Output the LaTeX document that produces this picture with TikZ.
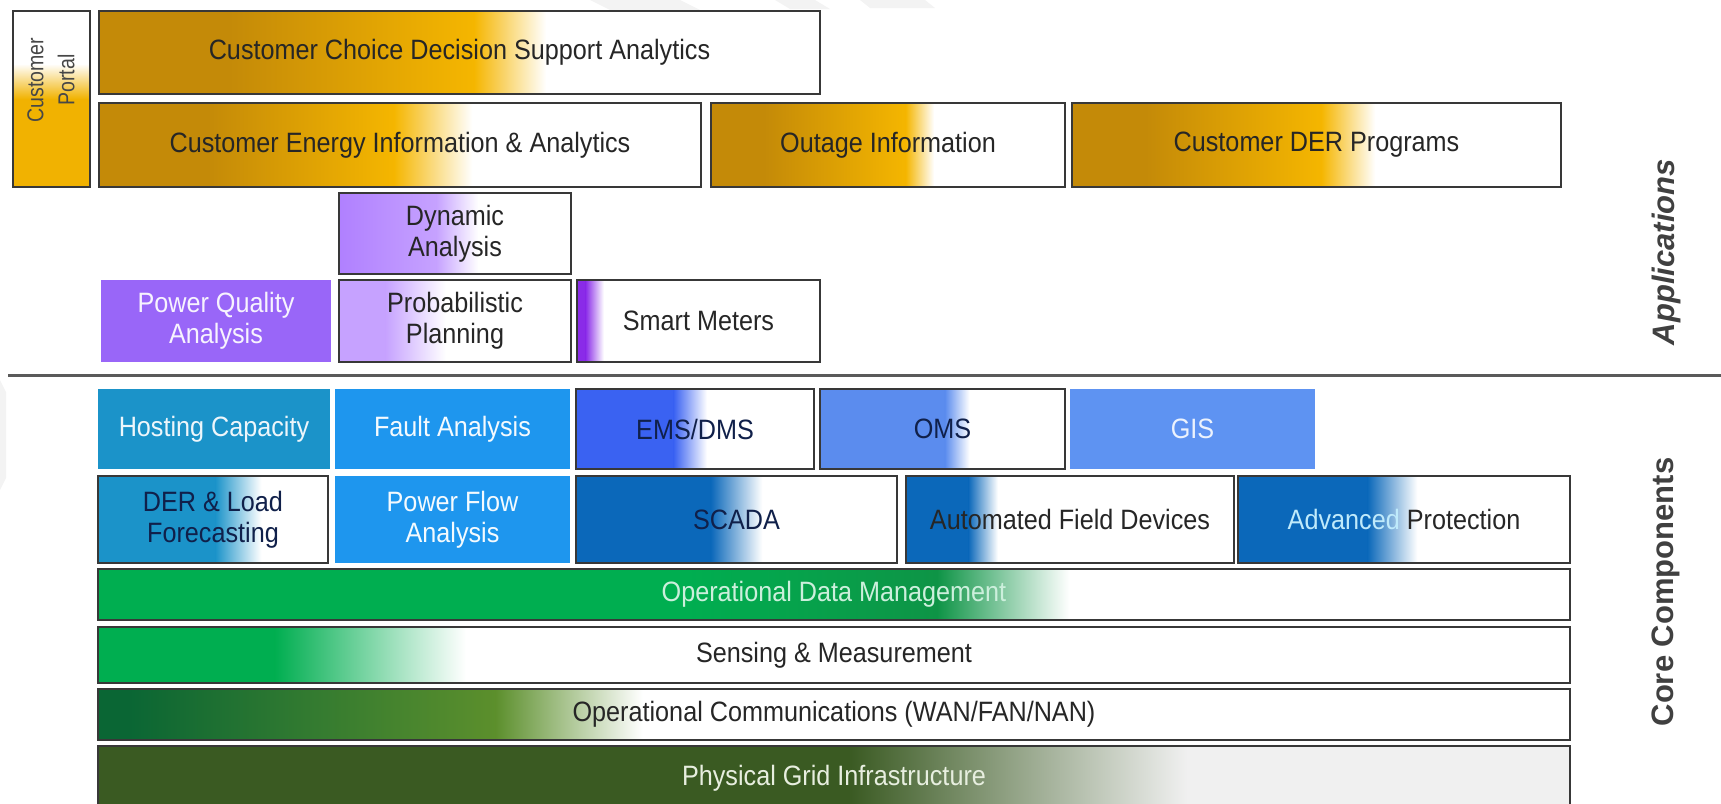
\documentclass[tikz,border=0pt]{standalone}
\usepackage{fontspec}
\setmainfont{Liberation Sans}
\newfontfamily\narrowfont{Liberation Sans}[FakeStretch=0.9]
\newfontfamily\portalfont{Liberation Sans}[FakeStretch=0.85]
\usetikzlibrary{calc}

% palette
\definecolor{goldD}{HTML}{C48A08}
\definecolor{goldB}{HTML}{F5B600}
\definecolor{purA}{HTML}{B080FF}
\definecolor{purB}{HTML}{C6A2FF}
\definecolor{purS}{HTML}{9966F8}
\definecolor{purV}{HTML}{8A2BE8}
\definecolor{bluH}{HTML}{1B93C9}
\definecolor{bluF}{HTML}{1E96EE}
\definecolor{bluE}{HTML}{3A62F2}
\definecolor{bluO}{HTML}{5B8CEE}
\definecolor{bluG}{HTML}{5E93F2}
\definecolor{bluS}{HTML}{0B68BA}
\definecolor{grnB}{HTML}{00AE50}
\definecolor{grnM}{HTML}{0E9446}
\definecolor{grnD}{HTML}{0A6634}
\definecolor{grnO}{HTML}{5C8F2C}
\definecolor{grnP}{HTML}{3A5A22}
\definecolor{lgray}{HTML}{F0F0F0}
\definecolor{txt}{HTML}{262626}
\definecolor{navy}{HTML}{10204A}
\definecolor{wmark}{HTML}{F3F3F3}
\definecolor{sepline}{HTML}{5A5A5A}

\tikzset{
  box/.style={rectangle, anchor=north west, inner sep=0pt, outer sep=0pt,
    draw=black!78, line width=1.6pt, text=txt,
    font=\narrowfont\fontsize{28}{31}\selectfont, align=center},
  solidbox/.style={box, draw=none, fill=#1},
  % solid #1 up to fraction #3, #1 -> #2 up to #4, #2 -> #6 up to #5, then #6
  grad/.style n args={6}{fill=#6, path picture={
    \fill[#1]
      (path picture bounding box.south west) rectangle
      ($(path picture bounding box.north west)!#3!(path picture bounding box.north east)+(0.6,0)$);
    \shade[left color=#1, right color=#2]
      ($(path picture bounding box.south west)!#3!(path picture bounding box.south east)$) rectangle
      ($(path picture bounding box.north west)!#4!(path picture bounding box.north east)+(0.6,0)$);
    \shade[left color=#2, right color=#6]
      ($(path picture bounding box.south west)!#4!(path picture bounding box.south east)$) rectangle
      ($(path picture bounding box.north west)!#5!(path picture bounding box.north east)$);
  }},
  % solid #1 from the bottom edge up to fraction #2, then #1 -> white up to #3
  vgrad/.style n args={3}{fill=white, path picture={
    \fill[#1]
      (path picture bounding box.south west) rectangle
      ($(path picture bounding box.south east)!#2!(path picture bounding box.north east)+(0,-0.6)$);
    \shade[bottom color=#1, top color=white]
      ($(path picture bounding box.south west)!#2!(path picture bounding box.north west)$) rectangle
      ($(path picture bounding box.south east)!#3!(path picture bounding box.north east)$);
  }},
  layer/.style={font=\bfseries\fontsize{31}{34}\selectfont, text=black!75, rotate=90}
}

\begin{document}
\begin{tikzpicture}[x=1pt, y=-1pt]
\useasboundingbox (0,0) rectangle (1721,803);

% faint background stripes
\fill[wmark] (590,0) -- (680,0) -- (700,10) -- (610,10) -- cycle;
\fill[wmark] (775,0) -- (815,0) -- (830,9) -- (790,9) -- cycle;
\fill[wmark] (860,0) -- (925,0) -- (935,8) -- (870,8) -- cycle;
\fill[wmark] (0,380) -- (6,392) -- (6,478) -- (0,490) -- cycle;

% ---------------- Applications ----------------
\node[box, vgrad={goldB!92!goldD}{0.50}{0.70}, minimum width=77, minimum height=176] (portal) at (13,11) {};
\node[font=\portalfont\fontsize{23}{31}\selectfont, text=black!72, align=center, rotate=90] (portaltxt) at (51,80) {Customer\\Portal};

\node[box, grad={goldD}{goldB}{0.18}{0.52}{0.62}{white}, minimum width=721, minimum height=83] (choice) at (99,11) {Customer Choice Decision Support Analytics};
\node[box, grad={goldD}{goldB}{0.18}{0.49}{0.62}{white}, minimum width=602, minimum height=84] (energy) at (99,103) {Customer Energy Information \& Analytics};
\node[box, grad={goldD}{goldB}{0.15}{0.55}{0.63}{white}, minimum width=354, minimum height=84] (outage) at (711,103) {Outage Information};
\node[box, grad={goldD}{goldB}{0.15}{0.51}{0.62}{white}, minimum width=489, minimum height=84] (derprog) at (1072,103) {Customer DER Programs};

\node[box, grad={purA}{purB}{0.0}{0.42}{0.60}{white}, minimum width=232, minimum height=81] (dynamic) at (339,193) {Dynamic\\Analysis};
\node[solidbox=purS, text=white!92!purS, minimum width=230, minimum height=82] (pq) at (101,280) {Power Quality\\Analysis};
\node[box, grad={purB}{purB}{0.18}{0.20}{0.46}{white}, minimum width=232, minimum height=82] (prob) at (339,280) {Probabilistic\\Planning};
\node[box, grad={purV}{purV}{0.03}{0.035}{0.11}{white}, minimum width=243, minimum height=82] (smart) at (577,280) {Smart Meters};

% divider between the two layers
\coordinate (sepL) at (8,375);
\coordinate (sepR) at (1721,375);
\draw[sepline, line width=3pt] (sepL) -- (sepR);

% ---------------- Core components ----------------
\node[solidbox=bluH, text=white!92!bluH, minimum width=232, minimum height=80] (hosting) at (98,389) {Hosting Capacity};
\node[solidbox=bluF, text=white!95!bluF, minimum width=235, minimum height=80] (fault) at (335,389) {Fault Analysis};
\node[box, grad={bluE}{bluE}{0.40}{0.41}{0.55}{white}, text=navy, minimum width=238, minimum height=80] (ems) at (576,389) {EMS/DMS};
\node[box, grad={bluO}{bluO}{0.50}{0.51}{0.61}{white}, text=navy, minimum width=245, minimum height=80] (oms) at (820,389) {OMS};
\node[solidbox=bluG, text=white!88!bluG, minimum width=245, minimum height=80] (gis) at (1070,389) {GIS};

\node[box, grad={bluH}{bluH}{0.50}{0.51}{0.71}{white}, text=navy, minimum width=230, minimum height=87] (derload) at (98,476) {DER \& Load\\Forecasting};
\node[solidbox=bluF, text=white!95!bluF, minimum width=235, minimum height=87] (pflow) at (335,476) {Power Flow\\Analysis};
\node[box, grad={bluS}{bluS}{0.41}{0.42}{0.58}{white}, text=navy, minimum width=321, minimum height=87] (scada) at (576,476) {SCADA};
\node[box, grad={bluS}{bluS}{0.18}{0.19}{0.28}{white}, text=txt, minimum width=328, minimum height=87] (afd) at (906,476) {Automated Field Devices};
\node[box, grad={bluS}{bluS}{0.38}{0.39}{0.54}{white}, text=txt, minimum width=332, minimum height=87] (advprot) at (1238,476) {\textcolor{white!75!cyan}{Advanced} Protection};

\node[box, grad={grnB}{grnM}{0.40}{0.57}{0.66}{white}, text=white!80!grnB, minimum width=1472, minimum height=51] (odm) at (98,569) {Operational Data Management};
\node[box, grad={grnB}{grnB}{0.11}{0.12}{0.25}{white}, minimum width=1472, minimum height=56] (sense) at (98,627) {Sensing \& Measurement};
\node[box, grad={grnD}{grnO}{0.02}{0.27}{0.37}{white}, minimum width=1472, minimum height=51] (comm) at (98,689) {Operational Communications (WAN/FAN/NAN)};
\node[box, grad={grnP}{grnP}{0.50}{0.51}{0.74}{lgray}, text=white!85!grnO, minimum width=1472, minimum height=64] (phys) at (98,746) {\raisebox{6pt}{Physical Grid Infrastructure}};

% layer captions
\node[layer, font=\bfseries\itshape\fontsize{31}{34}\selectfont] (apps) at (1666,252) {Applications};
\node[layer] (core) at (1666,592) {Core Components};
\end{tikzpicture}
\end{document}
